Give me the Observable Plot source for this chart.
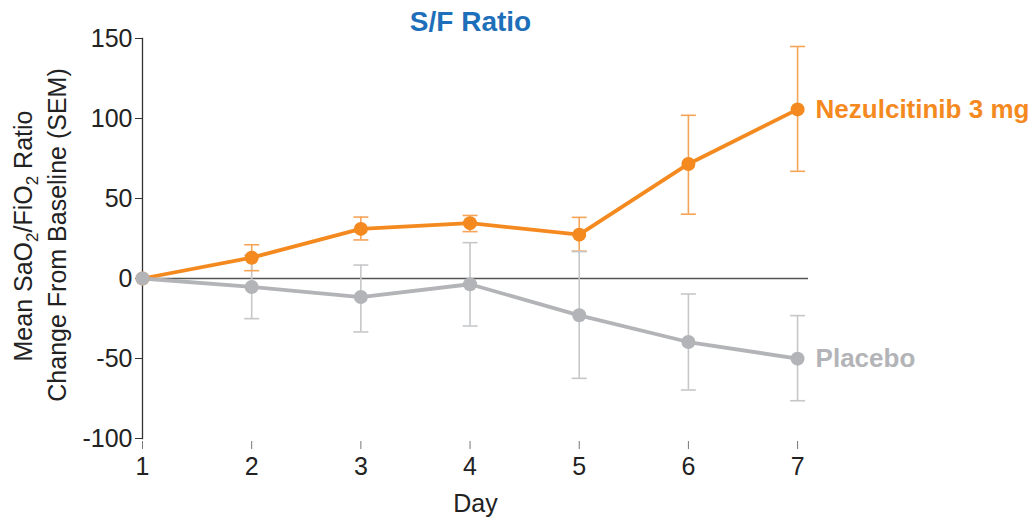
<!DOCTYPE html>
<html>
<head>
<meta charset="utf-8">
<script src="https://cdn.jsdelivr.net/npm/d3@7"></script>
<script src="https://cdn.jsdelivr.net/npm/@observablehq/plot@0.6"></script>
<style>
  html, body { margin: 0; padding: 0; background: #fff; }
</style>
</head>
<body>
<div id="chart"></div>
<script>
const days = [1, 2, 3, 4, 5, 6, 7];
const nezMean = [0, 13, 31, 34.6, 27.4, 71.6, 105.7];
const nezLow  = [0, 4.9, 24.1, 29.3, 17.1, 40.2, 67];
const nezHigh = [0, 21.1, 38.4, 39.4, 38.2, 102, 145];
const plaMean = [0, -5.3, -11.6, -3.6, -23, -39.7, -50.1];
const plaLow  = [0, -25.1, -33.4, -29.7, -62.4, -69.7, -76.4];
const plaHigh = [0, 14.5, 8.4, 22.4, 16.8, -9.7, -23.2];
const seriesNames = ["Nezulcitinib 3 mg", "Placebo"];
const yTicks = [-100, -50, 0, 50, 100, 150];
const titleText = "S/F Ratio";
const xLabel = "Day";

const colors = {
  "Nezulcitinib 3 mg": {line: "#F48A1F", err: "#F5A458"},
  "Placebo": {line: "#B3B4B7", err: "#C6C7C9"}
};

const build = (name, mean, lo, hi) => days.map((d, i) => ({series: name, day: d, mean: mean[i], lo: lo[i], hi: hi[i]}));
const nez = build(seriesNames[0], nezMean, nezLow, nezHigh);
const pla = build(seriesNames[1], plaMean, plaLow, plaHigh);
const all = [...nez, ...pla];
const errData = all.filter(d => d.hi !== d.lo);
const caps = errData.flatMap(d => [{series: d.series, day: d.day, v: d.lo}, {series: d.series, day: d.day, v: d.hi}]);

const capSymbol = {
  draw(ctx, size) {
    const w = Math.sqrt(size / Math.PI);
    ctx.moveTo(-w, 0);
    ctx.lineTo(w, 0);
  }
};

const chart = Plot.plot({
  width: 1036,
  height: 522,
  marginLeft: 142,
  marginRight: 228,
  marginTop: 38,
  marginBottom: 84,
  style: {fontFamily: "'Liberation Sans', Arial, Helvetica, sans-serif", color: "#222", background: "#fff"},
  x: {domain: [1, 7.1]},
  y: {domain: [-100, 150]},
  marks: [
    Plot.frame({anchor: "left", stroke: "#333", strokeWidth: 1.3}),
    Plot.axisY({ticks: yTicks, tickSize: 7, tickPadding: 3, fontSize: 25, label: null, stroke: "#333", fill: "#222", tickFormat: d => String(d)}),
    Plot.axisX({ticks: days, tickSize: 8, tickPadding: 8, dy: 3, fontSize: 25, label: null, stroke: "#777", fill: "#222", tickFormat: d => String(d)}),
    Plot.ruleY([0], {stroke: "#555", strokeWidth: 1.6}),
    Plot.ruleX(errData, {x: "day", y1: "lo", y2: "hi", stroke: d => colors[d.series].err, strokeWidth: 1.6}),
    Plot.dot(caps, {x: "day", y: "v", r: 7.5, symbol: capSymbol, fill: "none", stroke: d => colors[d.series].err, strokeWidth: 1.6}),
    Plot.line(nez, {x: "day", y: "mean", stroke: colors[seriesNames[0]].line, strokeWidth: 3.8}),
    Plot.line(pla, {x: "day", y: "mean", stroke: colors[seriesNames[1]].line, strokeWidth: 3.8}),
    Plot.dot(nez, {x: "day", y: "mean", r: 7, fill: colors[seriesNames[0]].line}),
    Plot.dot(pla, {x: "day", y: "mean", r: 7, fill: colors[seriesNames[1]].line}),
    Plot.text([nez[nez.length - 1], pla[pla.length - 1]], {
      x: "day", y: "mean", text: "series", dx: 18, textAnchor: "start",
      fontSize: 26, fontWeight: "bold", fill: d => colors[d.series].line
    }),
    Plot.text([titleText], {frameAnchor: "top", dy: -27, dx: -5, fontSize: 28, fontWeight: "bold", fill: "#1E6FBA"}),
    Plot.text([xLabel], {frameAnchor: "bottom", dy: 73, fontSize: 25, fill: "#222"})
  ]
});

document.getElementById("chart").appendChild(chart);

// Y-axis label with subscripts
const svg = d3.select(chart);
const g = svg.append("g")
  .attr("font-family", "'Liberation Sans', Arial, Helvetica, sans-serif")
  .attr("font-size", 25)
  .attr("fill", "#222")
  .attr("text-anchor", "middle");

const t1 = g.append("text").attr("transform", "translate(32,236) rotate(-90)");
t1.append("tspan").text("Mean SaO");
t1.append("tspan").attr("font-size", 17).attr("dy", 6).text("2");
t1.append("tspan").attr("dy", -6).text("/FiO");
t1.append("tspan").attr("font-size", 17).attr("dy", 6).text("2");
t1.append("tspan").attr("dy", -6).text(" Ratio");

g.append("text").attr("transform", "translate(66,235) rotate(-90)").text("Change From Baseline (SEM)");
</script>
</body>
</html>
